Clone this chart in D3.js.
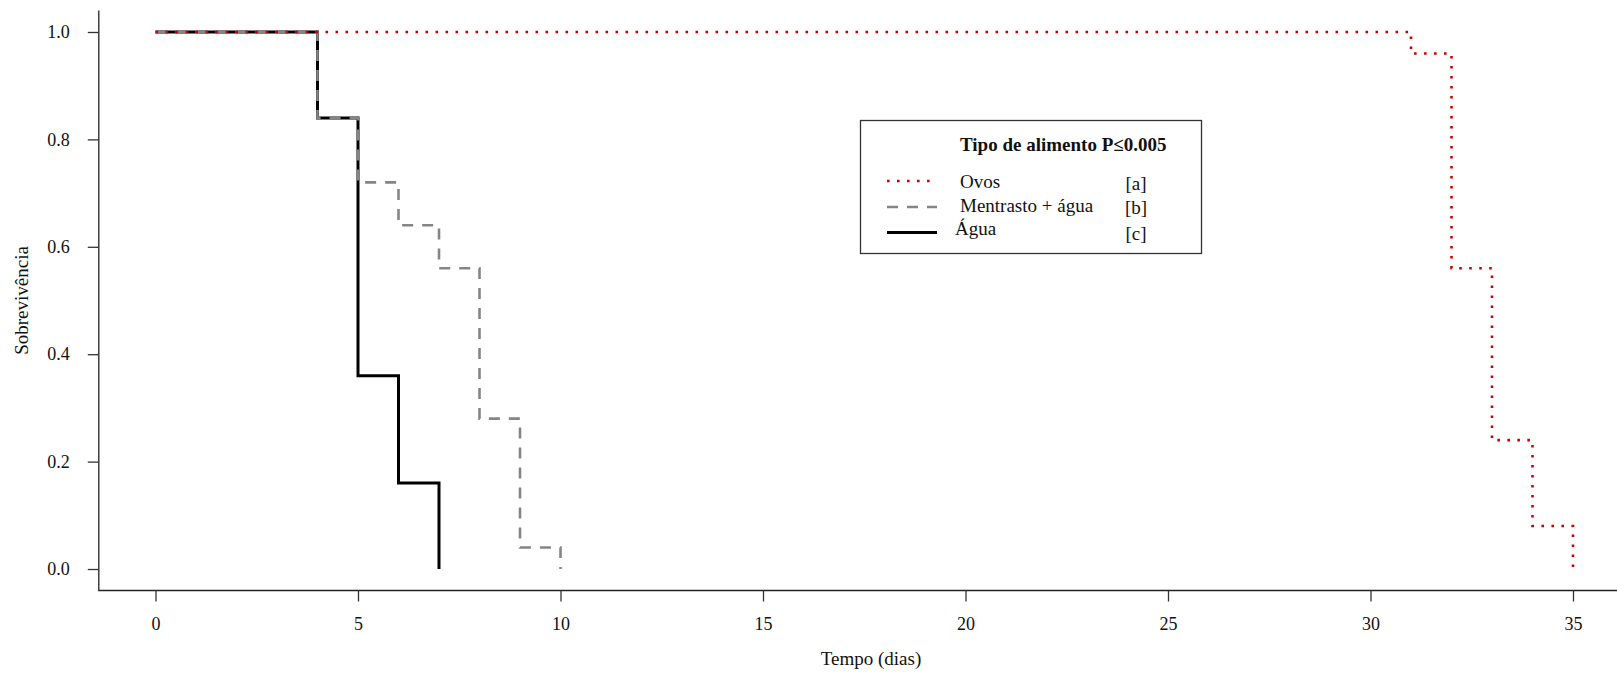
<!DOCTYPE html>
<html>
<head>
<meta charset="utf-8">
<script src="https://cdn.jsdelivr.net/npm/d3@7"></script>
<style>
  body { margin: 0; background: #fff; }
  svg { display: block; font-family: "Liberation Serif", "Times New Roman", serif; }
</style>
</head>
<body>
<div id="chart"></div>
<script>
// Survival data (Kaplan-Meier steps)
const ovosTime = [0, 31, 32, 33, 34, 35];
const ovosSurv = [1, 0.96, 0.56, 0.24, 0.08, 0];

const mentrastoTime = [0, 4, 5, 6, 7, 8, 9, 10];
const mentrastoSurv = [1, 0.84, 0.72, 0.64, 0.56, 0.28, 0.04, 0];

const aguaTime = [0, 4, 5, 6, 7];
const aguaSurv = [1, 0.84, 0.36, 0.16, 0];

const xTicks = [0, 5, 10, 15, 20, 25, 30, 35];
const yTicks = [0, 0.2, 0.4, 0.6, 0.8, 1.0];

const legendLabels = ["Ovos", "Mentrasto + água", "Água"];
const legendGroups = ["[a]", "[b]", "[c]"];
const legendTitle = "Tipo de alimento P\u22640.005";

const width = 1617, height = 675;

const svg = d3.select('#chart').append('svg')
  .attr('width', width)
  .attr('height', height);

// R-style scales with 4% padding
const x = d3.scaleLinear().domain([-1.4, 36.4]).range([98.8, 1629.7]);
const y = d3.scaleLinear().domain([-0.04, 1.04]).range([590.5, 10.5]);

// L-shaped frame
svg.append('path')
  .attr('d', `M${x(-1.4)},${y(1.04)}V${y(-0.04)}H${width}`)
  .attr('fill', 'none')
  .attr('stroke', '#222')
  .attr('stroke-width', 1.3);

// X axis
const xAxis = d3.axisBottom(x).tickValues(xTicks).tickSize(11).tickPadding(16)
  .tickFormat(d3.format('d'));
const gx = svg.append('g').attr('transform', `translate(0,${y(-0.04)})`).call(xAxis);
gx.select('.domain').remove();
gx.selectAll('line').attr('stroke', '#333').attr('stroke-width', 1.3);
gx.selectAll('text')
  .style('font-family', '"Liberation Serif", serif')
  .style('font-size', '18px')
  .attr('fill', '#111');

// Y axis
const yAxis = d3.axisLeft(y).tickValues(yTicks).tickSize(11).tickPadding(18)
  .tickFormat(d3.format('.1f'));
const gy = svg.append('g').attr('transform', `translate(${x(-1.4)},0)`).call(yAxis);
gy.select('.domain').remove();
gy.selectAll('line').attr('stroke', '#333').attr('stroke-width', 1.3);
gy.selectAll('text')
  .style('font-family', '"Liberation Serif", serif')
  .style('font-size', '18px')
  .attr('fill', '#111');

// Axis titles
svg.append('text')
  .attr('x', 871)
  .attr('y', 665)
  .attr('text-anchor', 'middle')
  .style('font-size', '19px')
  .attr('fill', '#111')
  .text('Tempo (dias)');

svg.append('text')
  .attr('transform', `translate(28,${(y(1.04) + y(-0.04)) / 2}) rotate(-90)`)
  .attr('text-anchor', 'middle')
  .style('font-size', '19px')
  .attr('fill', '#111')
  .text('Sobrevivência');

// Step lines
const stepLine = d3.line()
  .x(d => x(d[0]))
  .y(d => y(d[1]))
  .curve(d3.curveStepAfter);

const series = [
  { time: aguaTime, surv: aguaSurv, color: '#000', width: 3, dash: null },
  { time: mentrastoTime, surv: mentrastoSurv, color: '#858585', width: 2.6, dash: '11,9' },
  { time: ovosTime, surv: ovosSurv, color: '#cf0000', width: 2.6, dash: '2.6,7.4' }
];

series.forEach(s => {
  svg.append('path')
    .datum(d3.zip(s.time, s.surv))
    .attr('d', stepLine)
    .attr('fill', 'none')
    .attr('stroke', s.color)
    .attr('stroke-width', s.width)
    .attr('stroke-dasharray', s.dash);
});

// Legend
const legend = svg.append('g');
legend.append('rect')
  .attr('x', 860.5)
  .attr('y', 120.5)
  .attr('width', 341)
  .attr('height', 133)
  .attr('fill', '#fff')
  .attr('stroke', '#333')
  .attr('stroke-width', 1.3);

legend.append('text')
  .attr('x', 960)
  .attr('y', 151)
  .style('font-size', '19px')
  .style('font-weight', 'bold')
  .attr('fill', '#111')
  .text(legendTitle);

const legendStyles = [series[2], series[1], series[0]];
const rowLineY = [181, 207, 232.5];
const rowTextX = [960, 960, 955];
const rowTextY = [188, 212, 235];
const rowGroupY = [190, 214, 240];

legendLabels.forEach((label, i) => {
  const s = legendStyles[i];
  legend.append('line')
    .attr('x1', 887).attr('x2', 937)
    .attr('y1', rowLineY[i]).attr('y2', rowLineY[i])
    .attr('stroke', s.color)
    .attr('stroke-width', s.width)
    .attr('stroke-dasharray', s.dash);
  legend.append('text')
    .attr('x', rowTextX[i])
    .attr('y', rowTextY[i])
    .style('font-size', '19px')
    .attr('fill', '#111')
    .text(label);
  legend.append('text')
    .attr('x', 1136)
    .attr('y', rowGroupY[i])
    .attr('text-anchor', 'middle')
    .style('font-size', '19px')
    .attr('fill', '#111')
    .text(legendGroups[i]);
});
</script>
</body>
</html>
